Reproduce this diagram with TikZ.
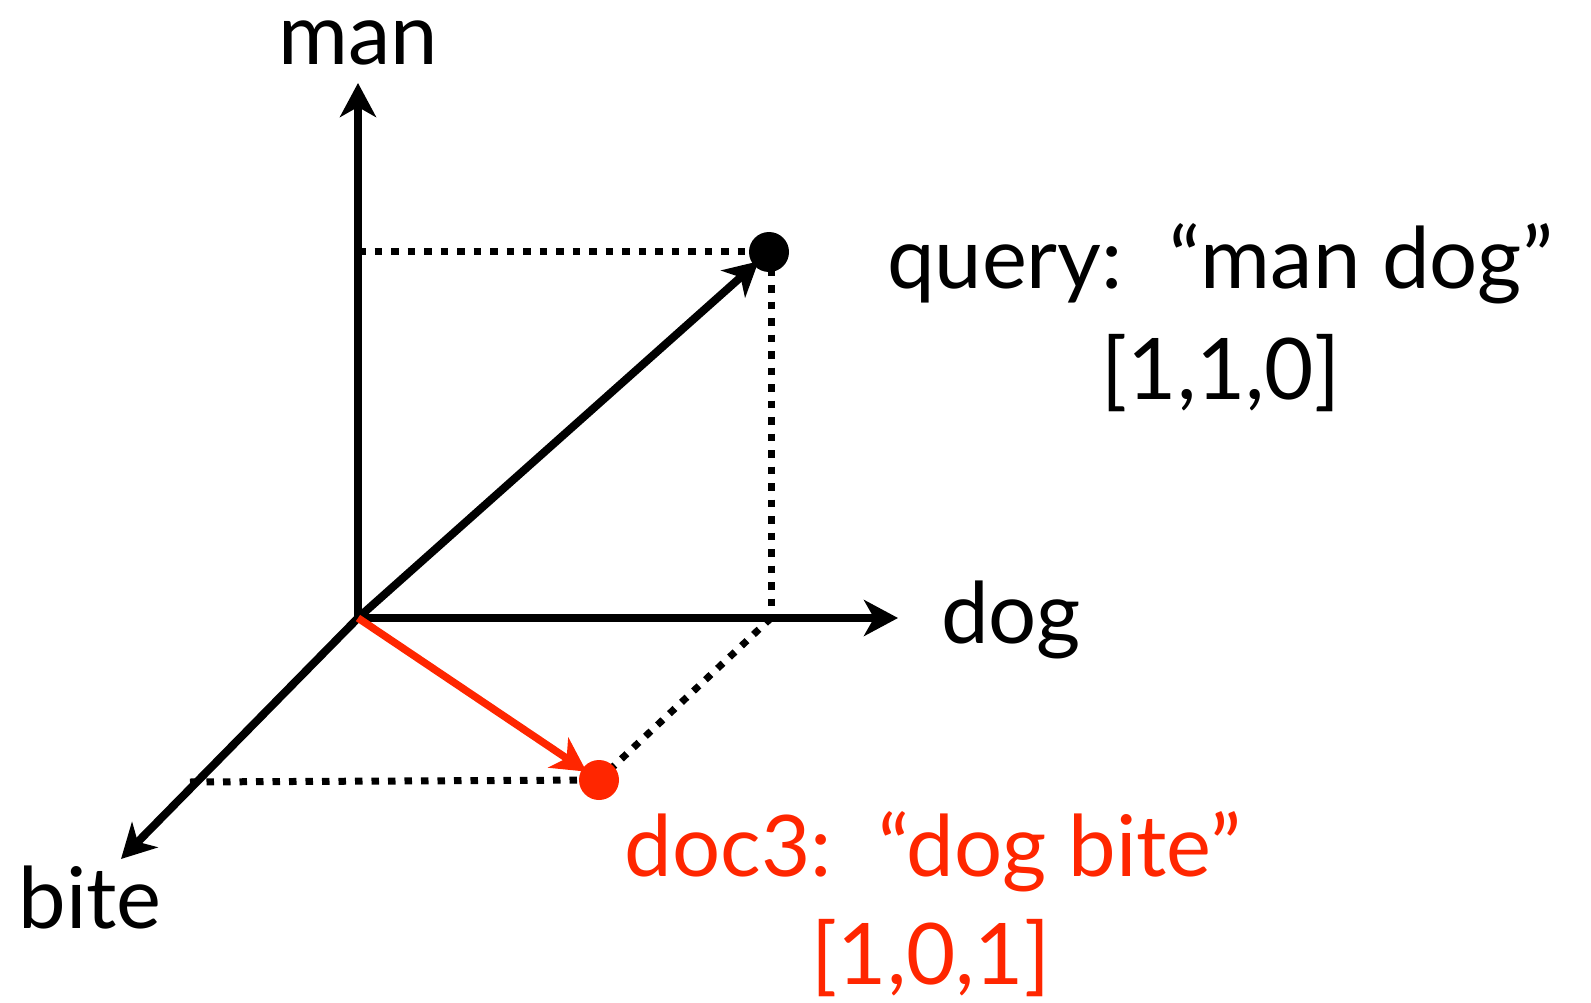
\documentclass[tikz,border=0pt]{standalone}
\usepackage{fontspec}
\setmainfont{Lato}
\usetikzlibrary{arrows.meta}
\definecolor{docred}{RGB}{255,38,0}
\begin{document}
\begin{tikzpicture}[x=1pt,y=-1pt,
  axis/.style={line width=8pt,-{Stealth[length=34pt,width=36pt,inset=10pt]}},
  guide/.style={line width=7pt,dash pattern=on 7.5pt off 9pt},
  dot/.style={circle,fill,inner sep=0pt,minimum size=40pt},
  lbl/.style={font=\fontsize{85}{100}\selectfont,anchor=base,inner sep=0pt}]
\useasboundingbox (0,0) rectangle (1591,1003);
\coordinate (O) at (358,618);
\coordinate (man) at (358,83);
\coordinate (dog) at (898,618);
\coordinate (bite) at (121,859);
\coordinate (qc) at (769,252);
\coordinate (dc) at (599,780);
\coordinate (mproj) at (358,252);
\coordinate (dproj) at (771,618);
\coordinate (bproj) at (190,782);
% guides
\draw[guide] (mproj) -- (qc);
\draw[guide] ([xshift=2pt]qc) -- (dproj);
\draw[guide] (dproj) -- (dc);
\draw[guide] (bproj) -- (dc);
% axes
\draw[axis] (O) -- (man);
\draw[axis] (O) -- (dog);
\draw[axis] (O) -- (bite);
% vectors
\draw[axis,shorten >=14pt] (O) -- (qc);
\draw[axis,docred,line width=7.5pt,shorten >=15pt] (O) -- (dc);
\node[dot] (q) at (qc) {};
\node[dot,fill=docred] (d) at (dc) {};
% labels
\node[lbl] (manl) at (358,65) {man};
\node[lbl] (dogl) at (1011,643) {dog};
\node[lbl] (ql) at (1220,288) {query:\hspace{0.55em}“man dog”};
\node[lbl] (qv) at (1221,399) {[1,1,0]};
\node[lbl] (bitel) at (90,928) {bite};
\node[lbl,text=docred] (dl) at (933,876) {doc3:\hspace{0.55em}“dog bite”};
\node[lbl,text=docred] (dv) at (931,984) {[1,0,1]};
\end{tikzpicture}
\end{document}
